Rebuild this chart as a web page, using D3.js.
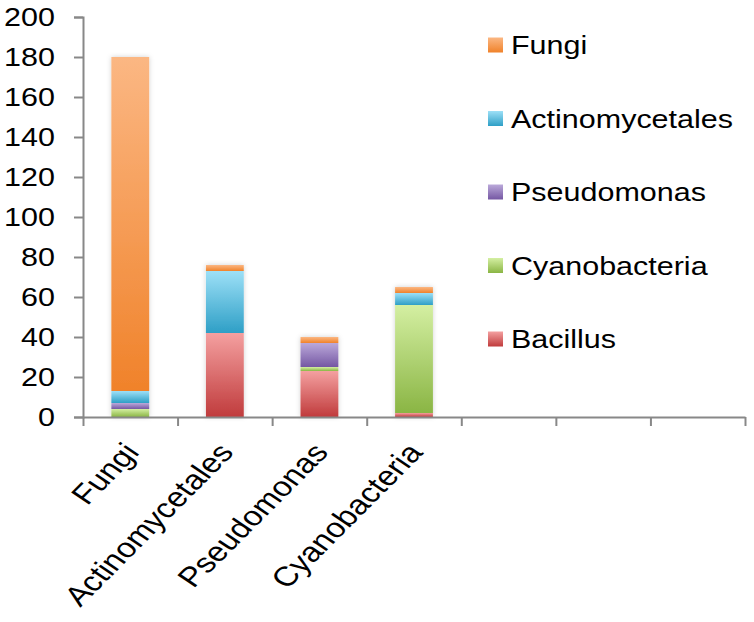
<!DOCTYPE html>
<html lang="en">
<head>
    <meta charset="UTF-8">
    <title>stacked bars</title>
    <style>
        *{ box-sizing: border-box; }
        body{ margin: 0; background: #fff; }
        #main{ width: 754px; height: 622px; }
        text{ font-family: "Liberation Sans", Arial, sans-serif; fill: #000; }
    </style>
</head>
<body>
<div id="main"></div>
<script src="https://d3js.org/d3.v7.min.js"></script>
<script>
    /* categories shown on the x axis (7 slots, last 3 empty) */
    const categories = ['Fungi', 'Actinomycetales', 'Pseudomonas', 'Cyanobacteria', '', '', '']

    /* series, stacked bottom -> top */
    const seriesNames = ['Bacillus', 'Cyanobacteria', 'Pseudomonas', 'Actinomycetales', 'Fungi']
    const bacillus        = [0, 42, 23, 2]
    const cyanobacteria   = [4, 0, 2, 54]
    const pseudomonas     = [3, 0, 12, 0]
    const actinomycetales = [6, 31, 0, 6]
    const fungi           = [167, 3, 3, 3]

    const yTicks = [0, 20, 40, 60, 80, 100, 120, 140, 160, 180, 200]

    /* light (top) / dark (bottom) gradient colours for each series */
    const colors = {
        Bacillus:        ['#f4a0a0', '#c03b3c'],
        Cyanobacteria:   ['#d4efa2', '#8ab544'],
        Pseudomonas:     ['#bba9da', '#7557a3'],
        Actinomycetales: ['#9de0f7', '#2e9fc6'],
        Fungi:           ['#fbb783', '#f0822a']
    }

    /* the original picture has its text a bit wider than tall */
    const sx = 1.22
    /* rotation that ends up at 45deg on screen after the stretch */
    const rot = Math.atan(sx) * 180 / Math.PI

    const width = 754, height = 622
    const svg = d3.select('#main').append('svg')
        .attr('width', width)
        .attr('height', height)
        .attr('viewBox', `0 0 ${width} ${height}`)

    const defs = svg.append('defs')
    seriesNames.forEach(name => {
        const g = defs.append('linearGradient')
            .attr('id', 'grad-' + name)
            .attr('x1', 0).attr('y1', 0).attr('x2', 0).attr('y2', 1)
        g.append('stop').attr('offset', '0%').attr('stop-color', colors[name][0])
        g.append('stop').attr('offset', '100%').attr('stop-color', colors[name][1])
    })
    const shadow = defs.append('filter').attr('id', 'shadow')
        .attr('x', '-30%').attr('y', '-10%').attr('width', '160%').attr('height', '120%')
    shadow.append('feDropShadow')
        .attr('dx', 0).attr('dy', 0).attr('stdDeviation', 2.5)
        .attr('flood-color', '#000').attr('flood-opacity', 0.18)

    /* table for d3.stack */
    const seriesValues = {
        Bacillus: bacillus,
        Cyanobacteria: cyanobacteria,
        Pseudomonas: pseudomonas,
        Actinomycetales: actinomycetales,
        Fungi: fungi
    }
    const table = d3.range(bacillus.length).map(i => {
        const row = {idx: i}
        seriesNames.forEach(n => row[n] = seriesValues[n][i])
        return row
    })
    const stacked = d3.stack().keys(seriesNames)(table)

    /* scales */
    const xScale = d3.scaleBand()
        .domain(d3.range(categories.length))
        .range([83, 745])
        .paddingInner(0.6)
        .paddingOuter(0.3)
    const yScale = d3.scaleLinear().domain([0, 200]).range([417, 17])

    /* bars */
    const bars = svg.append('g').attr('filter', 'url(#shadow)')
    bars.selectAll('g')
        .data(stacked)
        .join('g')
        .attr('fill', d => `url(#grad-${d.key})`)
        .selectAll('rect')
        .data(d => d.filter(s => s[1] - s[0] > 0))
        .join('rect')
        .attr('x', d => xScale(d.data.idx))
        .attr('width', xScale.bandwidth())
        .attr('y', d => yScale(d[1]))
        .attr('height', d => yScale(d[0]) - yScale(d[1]))

    /* y axis */
    const yAxis = svg.append('g')
        .attr('transform', 'translate(83,0)')
        .call(d3.axisLeft(yScale).tickValues(yTicks).tickSize(9))
    yAxis.selectAll('text')
        .attr('x', 0)
        .attr('transform', `translate(-28,0) scale(${sx},1)`)
        .style('font-size', '25px')
    yAxis.select('.domain').attr('stroke', '#888').attr('stroke-width', 2)
    yAxis.selectAll('.tick line').attr('stroke', '#888').attr('stroke-width', 2)

    /* x axis: tick marks on band edges */
    const xEdges = d3.scaleLinear().domain([0, categories.length]).range([83, 745])
    const xAxis = svg.append('g')
        .attr('transform', 'translate(0,417)')
        .call(d3.axisBottom(xEdges).ticks(categories.length).tickSize(9).tickSizeOuter(0).tickFormat(''))
    xAxis.select('.domain').attr('stroke', '#888').attr('stroke-width', 2)
    xAxis.selectAll('.tick line').attr('stroke', '#888').attr('stroke-width', 2)

    /* rotated category labels */
    svg.append('g')
        .selectAll('text')
        .data(categories.map((c, i) => ({c, i})).filter(d => d.c))
        .join('text')
        .attr('transform', d => `translate(${xScale(d.i) + xScale.bandwidth() / 2 + 1},447) scale(${sx},1) rotate(${-rot})`)
        .attr('text-anchor', 'end')
        .attr('dy', '0.35em')
        .style('font-size', '27.5px')
        .text(d => d.c)

    /* legend (top -> bottom is reverse stacking order) */
    const legend = svg.append('g')
        .selectAll('g')
        .data(seriesNames.slice().reverse())
        .join('g')
        .attr('transform', (d, i) => `translate(488,${45 + i * 73.5})`)
    legend.append('rect')
        .attr('x', 0).attr('y', -7.5)
        .attr('width', 15).attr('height', 15)
        .attr('fill', d => `url(#grad-${d})`)
    legend.append('text')
        .attr('transform', `translate(23,0) scale(${sx},1)`)
        .attr('dy', '0.36em')
        .style('font-size', '25px')
        .text(d => d)
</script>
</body>
</html>
